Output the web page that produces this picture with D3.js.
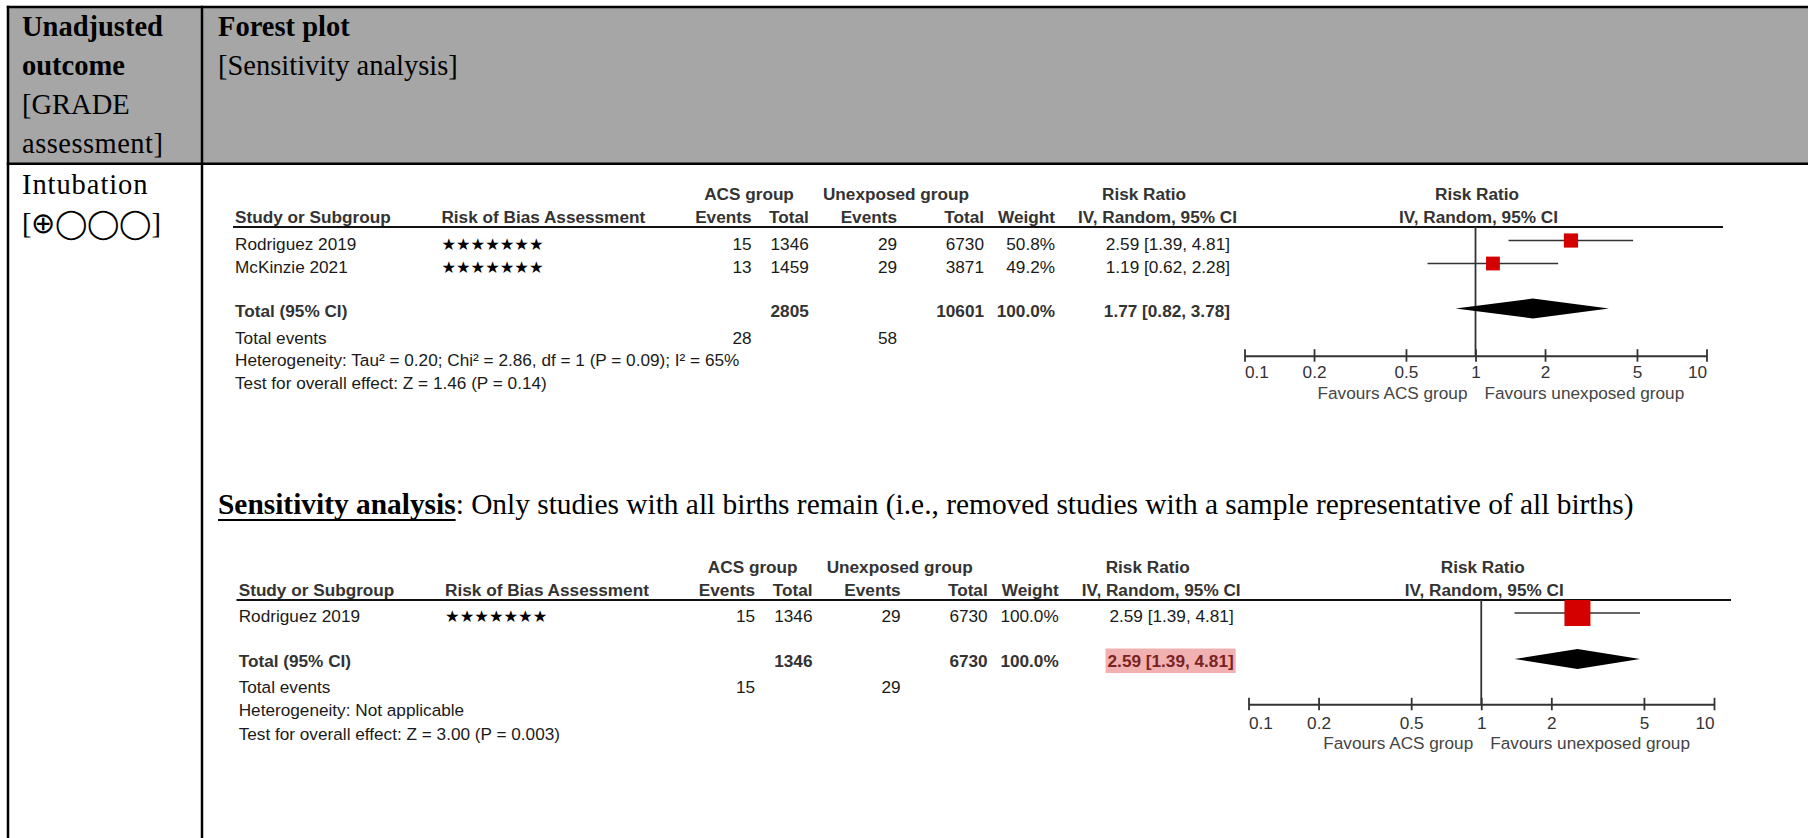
<!DOCTYPE html>
<html>
<head>
<meta charset="utf-8">
<script src="https://cdn.jsdelivr.net/npm/d3@7"></script>
<style>
  html, body { margin: 0; padding: 0; background: #fff; }
  svg { display: block; }
</style>
</head>
<body>
<svg id="chart" width="1808" height="838"></svg>
<script>
// ---------- Data: intubation, ACS group vs unexposed group ----------
const studies          = ["Rodriguez 2019", "McKinzie 2021"];
const biasStars        = [7, 7];
const acsEvents        = [15, 13];
const acsTotals        = [1346, 1459];
const unexposedEvents  = [29, 29];
const unexposedTotals  = [6730, 3871];
const weights          = [50.8, 49.2];
const riskRatios       = [2.59, 1.19];
const ciLower          = [1.39, 0.62];
const ciUpper          = [4.81, 2.28];
const pooledEstimate   = [1.77, 0.82, 3.78];   // RR, lower, upper
const heterogeneityText = "Heterogeneity: Tau² = 0.20; Chi² = 2.86, df = 1 (P = 0.09); I² = 65%";
const overallEffectText = "Test for overall effect: Z = 1.46 (P = 0.14)";

// Sensitivity analysis: only studies with all births
const sensStudies          = ["Rodriguez 2019"];
const sensWeights          = [100.0];
const sensPooledEstimate   = [2.59, 1.39, 4.81];
const sensHeterogeneityText = "Heterogeneity: Not applicable";
const sensOverallEffectText = "Test for overall effect: Z = 3.00 (P = 0.003)";

// Risk ratio axis
const axisTicks  = [0.1, 0.2, 0.5, 1, 2, 5, 10];
const tickLabels = ["0.1", "0.2", "0.5", "1", "2", "5", "10"];
const favourLeft  = "Favours ACS group";
const favourRight = "Favours unexposed group";

// ---------- Build row records ----------
const mainRows = studies.map((s, i) => ({
  name: s, stars: biasStars[i], acsEv: acsEvents[i], acsTot: acsTotals[i],
  unEv: unexposedEvents[i], unTot: unexposedTotals[i], weight: weights[i],
  rr: riskRatios[i], lo: ciLower[i], hi: ciUpper[i]
}));
const sensRows = sensStudies.map((s, j) => {
  const r = mainRows.find(d => d.name === s);
  return Object.assign({}, r, { weight: sensWeights[j] });
});

const analyses = [
  { rows: mainRows, pooled: pooledEstimate, het: heterogeneityText, test: overallEffectText, highlight: false },
  { rows: sensRows, pooled: sensPooledEstimate, het: sensHeterogeneityText, test: sensOverallEffectText, highlight: true }
];

// ---------- Layout ----------
const W = 1808, H = 838;
const sans  = "'Liberation Sans', Arial, Helvetica, sans-serif";
const serif = "'Liberation Serif', 'Times New Roman', serif";
const fs = 17.2;   // table font size

const layouts = [
  { origin: 235, axis: [1244.5, 1706.5], ruleStart: 233, ruleEnd: 1723,
    y: { group: 194, cols: 217, rule: 227, rows: [243.5, 266.5], total: 310.5, events: 337.5,
         het: 360, test: 382.5, axis: 355.7, ticks: 372.3, favours: 392.7 } },
  { origin: 238.7, axis: [1248.5, 1714], ruleStart: 236.5, ruleEnd: 1731,
    y: { group: 566.5, cols: 590, rule: 600, rows: [616], total: 661, events: 686.5,
         het: 710, test: 733.4, axis: 704.3, ticks: 722.7, favours: 742.3 } }
];
// column anchors relative to a plot's origin
const cols = { study: 0, bias: 206.4, acsEv: 516.5, acsTot: 573.8, unEv: 662, unTot: 749,
               weight: 820, est: 995, acsHdr: 514, unHdr: 661, rrHdr1: 909, rrHdr2: 922.5 };

const svg = d3.select("#chart");
svg.append("rect").attr("width", W).attr("height", H).attr("fill", "#fff");

// ---------- Table frame ----------
const headerTop = 7, headerBottom = 163.7, leftEdge = 8, divider = 202;
svg.append("rect")
  .attr("x", leftEdge).attr("y", headerTop)
  .attr("width", W - leftEdge).attr("height", headerBottom - headerTop)
  .attr("fill", "#a6a6a6");

const frameLines = [
  [leftEdge - 1.2, headerTop, W, headerTop],
  [leftEdge - 1.2, headerBottom, W, headerBottom],
  [leftEdge, headerTop - 1.2, leftEdge, H],
  [divider, headerTop - 1.2, divider, H]
];
svg.append("g").selectAll("line").data(frameLines).join("line")
  .attr("x1", d => d[0]).attr("y1", d => d[1]).attr("x2", d => d[2]).attr("y2", d => d[3])
  .attr("stroke", "#000").attr("stroke-width", 2.5);

const cellText = [
  { t: "Unadjusted", x: 22, y: 35.7, b: true },
  { t: "outcome", x: 22, y: 75, b: true },
  { t: "[GRADE", x: 22, y: 114 },
  { t: "assessment]", x: 22, y: 153.4, len: 141 },
  { t: "Forest plot", x: 218, y: 35.7, b: true },
  { t: "[Sensitivity analysis]", x: 218, y: 75 },
  { t: "Intubation", x: 22, y: 193.7, len: 125.5 },
  { t: "[⊕◯◯◯]", x: 22, y: 233 }
];
svg.append("g").selectAll("text").data(cellText).join("text")
  .attr("x", d => d.x).attr("y", d => d.y)
  .attr("font-family", serif).attr("font-size", 28.5)
  .attr("font-weight", d => d.b ? "bold" : "normal")
  .attr("fill", "#000")
  .attr("textLength", d => d.len || null)
  .attr("lengthAdjust", d => d.len ? "spacing" : null)
  .text(d => d.t);

// Sensitivity heading
const sensHead = svg.append("text")
  .attr("x", 218).attr("y", 514)
  .attr("font-family", serif).attr("font-size", 29.4).attr("fill", "#000");
const sensBold = sensHead.append("tspan").attr("font-weight", "bold").text("Sensitivity analysis");
sensHead.append("tspan").text(": Only studies with all births remain (i.e., removed studies with a sample representative of all births)");
const boldLen = sensBold.node().getComputedTextLength();
svg.append("line")
  .attr("x1", 218).attr("x2", 218 + boldLen).attr("y1", 520).attr("y2", 520)
  .attr("stroke", "#000").attr("stroke-width", 2);

// ---------- Forest plots ----------
const fmt2 = d3.format(".2f");
const fmt1 = d3.format(".1f");
const estLabel = (rr, lo, hi) => `${fmt2(rr)} [${fmt2(lo)}, ${fmt2(hi)}]`;
const squareSide = d3.scaleLinear().domain([0, 100]).range([2, 26]);

function drawForest(A, L) {
  const g = svg.append("g").attr("font-family", sans).attr("font-size", fs);
  const x = d3.scaleLog().domain([0.1, 10]).range(L.axis);
  const cx = k => L.origin + cols[k];
  const base = 6.2;   // baseline offset from a row's centre line

  function text(s, xp, yc, o = {}) {
    return g.append("text")
      .attr("x", xp).attr("y", yc + base)
      .attr("text-anchor", o.anchor || "start")
      .attr("font-weight", o.bold ? "bold" : "normal")
      .attr("fill", o.fill || (o.bold ? "#333" : "#1a1a1a"))
      .text(s);
  }

  // column headers
  text("ACS group", cx("acsHdr"), L.y.group, { bold: true, anchor: "middle" });
  text("Unexposed group", cx("unHdr"), L.y.group, { bold: true, anchor: "middle" });
  text("Risk Ratio", cx("rrHdr1"), L.y.group, { bold: true, anchor: "middle" });
  text("Risk Ratio", x(1) + 1.5, L.y.group, { bold: true, anchor: "middle" });
  text("Study or Subgroup", cx("study"), L.y.cols, { bold: true });
  text("Risk of Bias Assessment", cx("bias"), L.y.cols, { bold: true });
  text("Events", cx("acsEv"), L.y.cols, { bold: true, anchor: "end" });
  text("Total", cx("acsTot"), L.y.cols, { bold: true, anchor: "end" });
  text("Events", cx("unEv"), L.y.cols, { bold: true, anchor: "end" });
  text("Total", cx("unTot"), L.y.cols, { bold: true, anchor: "end" });
  text("Weight", cx("weight"), L.y.cols, { bold: true, anchor: "end" });
  text("IV, Random, 95% CI", cx("rrHdr2"), L.y.cols, { bold: true, anchor: "middle" });
  text("IV, Random, 95% CI", x(1) + 3, L.y.cols, { bold: true, anchor: "middle" });

  g.append("line")
    .attr("x1", L.ruleStart).attr("x2", L.ruleEnd).attr("y1", L.y.rule).attr("y2", L.y.rule)
    .attr("stroke", "#111").attr("stroke-width", 2);

  // study rows
  A.rows.forEach((r, i) => {
    const yc = L.y.rows[i];
    text(r.name, cx("study"), yc);
    text("★".repeat(r.stars), cx("bias"), yc)
      .attr("font-family", "'DejaVu Sans', sans-serif").attr("font-size", 16.3).attr("fill", "#000");
    text(r.acsEv, cx("acsEv"), yc, { anchor: "end" });
    text(r.acsTot, cx("acsTot"), yc, { anchor: "end" });
    text(r.unEv, cx("unEv"), yc, { anchor: "end" });
    text(r.unTot, cx("unTot"), yc, { anchor: "end" });
    text(fmt1(r.weight) + "%", cx("weight"), yc, { anchor: "end" });
    text(estLabel(r.rr, r.lo, r.hi), cx("est"), yc, { anchor: "end" });
  });

  // totals
  const totAcs = d3.sum(A.rows, d => d.acsTot), totUn = d3.sum(A.rows, d => d.unTot);
  const evAcs = d3.sum(A.rows, d => d.acsEv), evUn = d3.sum(A.rows, d => d.unEv);
  const totW = d3.sum(A.rows, d => d.weight);
  const [prr, plo, phi] = A.pooled;

  text("Total (95% CI)", cx("study"), L.y.total, { bold: true });
  text(totAcs, cx("acsTot"), L.y.total, { bold: true, anchor: "end" });
  text(totUn, cx("unTot"), L.y.total, { bold: true, anchor: "end" });
  text(fmt1(totW) + "%", cx("weight"), L.y.total, { bold: true, anchor: "end" });
  const estTxt = text(estLabel(prr, plo, phi), cx("est"), L.y.total,
    { bold: true, anchor: "end", fill: A.highlight ? "#7a2323" : "#333" });
  if (A.highlight) {
    const bb = estTxt.node().getBBox();
    g.insert("rect", () => estTxt.node())
      .attr("x", bb.x - 2).attr("y", L.y.total - 12.5)
      .attr("width", bb.width + 4).attr("height", 24.5)
      .attr("fill", "#f2b1b1");
  }
  text("Total events", cx("study"), L.y.events);
  text(evAcs, cx("acsEv"), L.y.events, { anchor: "end" });
  text(evUn, cx("unEv"), L.y.events, { anchor: "end" });
  text(A.het, cx("study"), L.y.het);
  text(A.test, cx("study"), L.y.test);

  // line of no effect
  g.append("line")
    .attr("x1", x(1)).attr("x2", x(1)).attr("y1", L.y.rule).attr("y2", L.y.axis)
    .attr("stroke", "#333").attr("stroke-width", 1.8);

  // confidence intervals and weighted squares
  A.rows.forEach((r, i) => {
    const yc = L.y.rows[i] - 3;
    const s = squareSide(r.weight);
    g.append("line")
      .attr("x1", x(r.lo)).attr("x2", x(r.hi)).attr("y1", yc).attr("y2", yc)
      .attr("stroke", "#333").attr("stroke-width", 1.5);
    g.append("rect")
      .attr("x", x(r.rr) - s / 2).attr("y", yc - s / 2)
      .attr("width", s).attr("height", s)
      .attr("fill", "#d40000");
  });

  // pooled diamond
  const dy = L.y.total - 2, hh = 10;
  g.append("path")
    .attr("d", d3.line()([[x(plo), dy], [x(prr), dy - hh], [x(phi), dy], [x(prr), dy + hh]]) + "Z")
    .attr("fill", "#000");

  // axis
  const axis = d3.axisBottom(x).tickValues(axisTicks)
    .tickFormat((d, i) => tickLabels[i]).tickSizeOuter(0).tickSizeInner(6).tickPadding(0);
  const ag = g.append("g").attr("transform", `translate(0,${L.y.axis})`).call(axis);
  ag.select(".domain").attr("stroke", "#333").attr("stroke-width", 2);
  ag.selectAll(".tick line").attr("y1", -6.5).attr("y2", 6).attr("stroke", "#333").attr("stroke-width", 1.8);
  ag.selectAll(".tick text")
    .attr("y", L.y.ticks - L.y.axis + base).attr("dy", null)
    .attr("font-family", sans).attr("font-size", fs).attr("fill", "#333")
    .attr("text-anchor", (d, i) => i === 0 ? "start" : (i === axisTicks.length - 1 ? "end" : "middle"));

  text(favourLeft, x(1) - 8, L.y.favours, { anchor: "end", fill: "#444" });
  text(favourRight, x(1) + 9, L.y.favours, { fill: "#444" });
}

analyses.forEach((A, i) => drawForest(A, layouts[i]));
</script>
</body>
</html>
